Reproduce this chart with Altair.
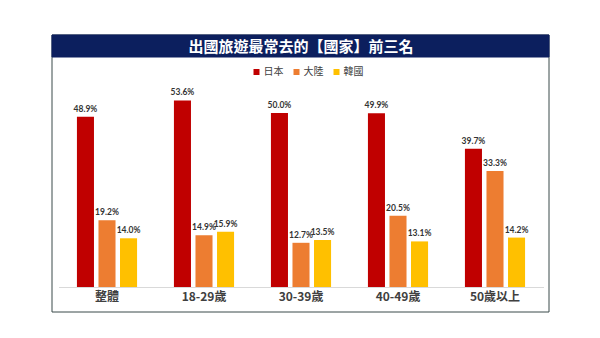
import altair as alt
import pandas as pd

groups = ["整體", "18-29歲", "30-39歲", "40-49歲", "50歲以上"]
countries = ["日本", "大陸", "韓國"]
japan = [48.9, 53.6, 50.0, 49.9, 39.7]
china = [19.2, 14.9, 12.7, 20.5, 33.3]
korea = [14.0, 15.9, 13.5, 13.1, 14.2]
colors = ["#C00000", "#ED7D31", "#FFC000"]
title_text = "出國旅遊最常去的【國家】前三名"

rows = []
for i, g in enumerate(groups):
    for c, vals in zip(countries, [japan, china, korea]):
        rows.append({"組別": g, "國家": c, "比例": vals[i], "標籤": f"{vals[i]:.1f}%"})
df = pd.DataFrame(rows)

W, H = 485, 200
CJK = "Noto Sans CJK TC"

xenc = alt.X("組別:N", sort=groups, title=None,
             scale=alt.Scale(paddingInner=0.38, paddingOuter=0.19),
             axis=alt.Axis(labelAngle=0, labelFont=CJK, labelFontSize=12,
                           labelFontWeight="bold",
                           labelColor="#404040", labelPadding=4, ticks=False,
                           domainColor="#D9D9D9", domainWidth=1, grid=False, zindex=1))
yenc = alt.Y("比例:Q", title=None, scale=alt.Scale(domain=[0, 57.47], nice=False, zero=True),
             axis=None)
xoff = alt.XOffset("國家:N", sort=countries,
                   scale=alt.Scale(paddingInner=0.209, paddingOuter=0))

base = alt.Chart(df)

bars = base.mark_bar().encode(
    x=xenc, y=yenc, xOffset=xoff,
    color=alt.Color("國家:N", sort=countries,
                    scale=alt.Scale(domain=countries, range=colors),
                    legend=alt.Legend(title=None, orient="none", direction="horizontal",
                                      legendX=193, legendY=-20, symbolType="square",
                                      symbolSize=36, symbolStrokeWidth=0,
                                      labelFont=CJK, labelFontSize=10, labelColor="#404040",
                                      columnPadding=8, symbolOffset=0, labelOffset=2)),
)

labels = base.mark_text(dy=-3, baseline="bottom", font="Lato", fontWeight="bold",
                        fontSize=8.5, color="#333333").encode(
    x=xenc, y=yenc, xOffset=xoff, text="標籤:N"
)

one = alt.Chart(pd.DataFrame({"t": [title_text]}))
frame = one.mark_rect(filled=False, stroke="#3B4A4A", strokeWidth=1).encode(
    x=alt.value(-6.5), x2=alt.value(490.5), y=alt.value(-52), y2=alt.value(225))
bar_title = one.mark_rect(fill="#0C1F5E", stroke="#0C1F5E").encode(
    x=alt.value(-6.5), x2=alt.value(490.5), y=alt.value(-52), y2=alt.value(-30))
title = one.mark_text(font=CJK, fontSize=15, fontWeight="bold", color="white",
                      align="center", baseline="middle").encode(
    x=alt.value(242.5), y=alt.value(-40), text="t:N")

chart = alt.layer(frame, bar_title, title, bars, labels).properties(
    width=W, height=H,
    autosize=alt.AutoSizeParams(type="none"),
    padding={"left": 58.5, "top": 87, "right": 56.5, "bottom": 51},
    background="white",
).configure_view(stroke=None)

chart.save("out.html", embed_options={"renderer": "svg", "actions": False})
